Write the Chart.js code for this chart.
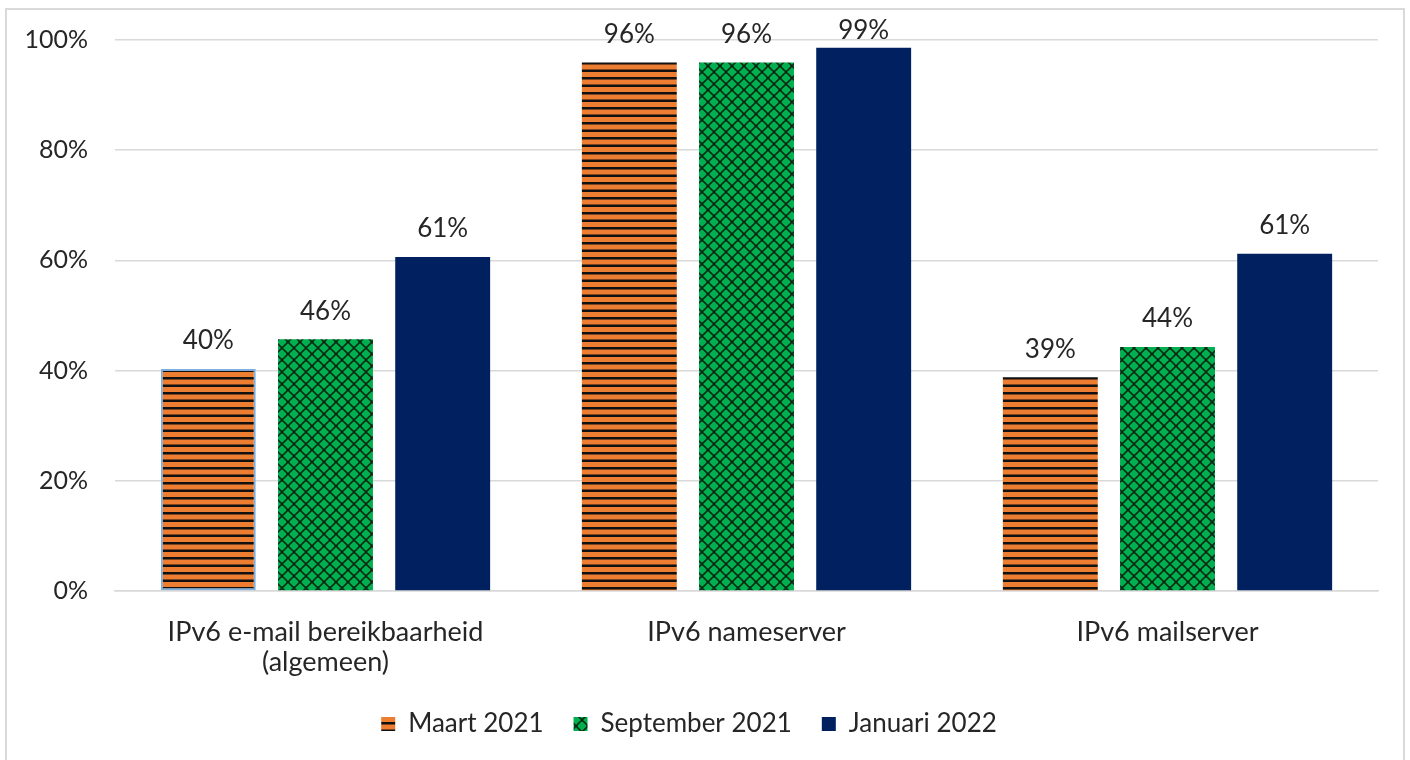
<!DOCTYPE html>
<html>
<head>
<meta charset="utf-8">
<script src="https://cdn.jsdelivr.net/npm/chart.js@4"></script>
<style>
  body { margin: 0; background: #fff; }
  #frame { position: absolute; left: 5px; top: 8px; width: 1400px; height: 760px; border: 2px solid #d9d9d9; box-sizing: border-box; }
  #wrap { position: absolute; left: 0; top: 0; width: 1410px; height: 760px; }
</style>
</head>
<body>
<div id="frame"></div>
<div id="wrap"><canvas id="chart" width="1410" height="760"></canvas></div>
<script>
// Data
var categories = [["IPv6 e-mail bereikbaarheid", "(algemeen)"], "IPv6 nameserver", "IPv6 mailserver"];
var seriesNames = ["Maart 2021", "September 2021", "Januari 2022"];
var maart2021 = [40.3, 95.9, 38.8];
var september2021 = [45.7, 95.9, 44.3];
var januari2022 = [60.6, 98.6, 61.2];
var yTicks = [0, 20, 40, 60, 80, 100];

var FONT = "Lato";
var TEXT = "#262626";

function stripePattern() {
  var c = document.createElement("canvas");
  c.width = 16; c.height = 15;
  var ctx = c.getContext("2d");
  ctx.fillStyle = "#ED7D31";
  ctx.fillRect(0, 0, 16, 15);
  ctx.fillStyle = "#111";
  ctx.fillRect(0, 2, 16, 2.5);
  ctx.fillRect(0, 9.5, 16, 2.5);
  return ctx.createPattern(c, "repeat");
}

function trellisPattern() {
  var c = document.createElement("canvas");
  c.width = 12; c.height = 12;
  var ctx = c.getContext("2d");
  ctx.fillStyle = "#00B050";
  ctx.fillRect(0, 0, 12, 12);
  ctx.strokeStyle = "#0a2a12";
  ctx.lineWidth = 1.6;
  ctx.beginPath();
  ctx.moveTo(0, 6); ctx.lineTo(6, 0); ctx.lineTo(12, 6); ctx.lineTo(6, 12); ctx.closePath();
  ctx.stroke();
  ctx.fillStyle = "#0a2a12";
  ctx.fillRect(5, -1, 2, 2.5); ctx.fillRect(5, 10.5, 2, 2.5);
  ctx.fillRect(-1, 5, 2.5, 2); ctx.fillRect(10.5, 5, 2.5, 2);
  return ctx.createPattern(c, "repeat");
}

// value labels above the bars, kept inside the top of the chart
var barLabels = {
  id: "barLabels",
  afterDatasetsDraw: function (chart) {
    var ctx = chart.ctx;
    ctx.save();
    ctx.font = "26px " + FONT;
    ctx.fillStyle = TEXT;
    ctx.textAlign = "center";
    ctx.textBaseline = "middle";
    chart.data.datasets.forEach(function (ds, i) {
      chart.getDatasetMeta(i).data.forEach(function (bar, j) {
        ctx.fillText(Math.round(ds.data[j]) + "%", bar.x, Math.max(bar.y - 28, 31));
      });
    });
    ctx.restore();
  }
};

new Chart(document.getElementById("chart"), {
  type: "bar",
  data: {
    labels: categories,
    datasets: [
      {
        label: seriesNames[0],
        data: maart2021,
        backgroundColor: stripePattern(),
        borderColor: ["#7FAEDC", "rgba(0,0,0,0)", "rgba(0,0,0,0)"],
        borderWidth: [2, 0, 0],
        borderSkipped: false
      },
      {
        label: seriesNames[1],
        data: september2021,
        backgroundColor: trellisPattern(),
        borderWidth: 0
      },
      {
        label: seriesNames[2],
        data: januari2022,
        backgroundColor: "#002060",
        borderWidth: 0
      }
    ]
  },
  options: {
    responsive: false,
    animation: false,
    devicePixelRatio: 1,
    categoryPercentage: 0.835,
    barPercentage: 0.81,
    layout: { padding: { left: 0, right: 32, top: 40, bottom: 13 } },
    scales: {
      y: {
        min: 0,
        max: 100,
        afterBuildTicks: function (scale) {
          scale.ticks = yTicks.map(function (v) { return { value: v }; });
        },
        afterFit: function (scale) {
          scale.width = 115;
          scale.paddingTop = 0;
          scale.paddingBottom = 0;
        },
        border: { display: false },
        grid: { color: "#d9d9d9", lineWidth: 1.5, drawTicks: false },
        ticks: {
          padding: 27,
          color: TEXT,
          font: { family: FONT, size: 25 },
          callback: function (v) { return v + "%"; }
        }
      },
      x: {
        afterFit: function (scale) { scale.height = 90; },
        border: { display: true, color: "#d9d9d9", width: 1.5 },
        grid: { display: false, drawTicks: false },
        ticks: {
          padding: 26,
          color: TEXT,
          maxRotation: 0,
          font: { family: FONT, size: 27, lineHeight: 1.12 }
        }
      }
    },
    plugins: {
      legend: {
        position: "bottom",
        labels: {
          color: TEXT,
          boxWidth: 14,
          boxHeight: 14,
          padding: 30,
          font: { family: FONT, size: 26 },
          generateLabels: function (chart) {
            var items = Chart.defaults.plugins.legend.labels.generateLabels(chart);
            items.forEach(function (it) { it.lineWidth = 0; it.strokeStyle = "rgba(0,0,0,0)"; });
            return items;
          }
        }
      },
      tooltip: { enabled: false }
    }
  },
  plugins: [barLabels]
});
</script>
</body>
</html>
